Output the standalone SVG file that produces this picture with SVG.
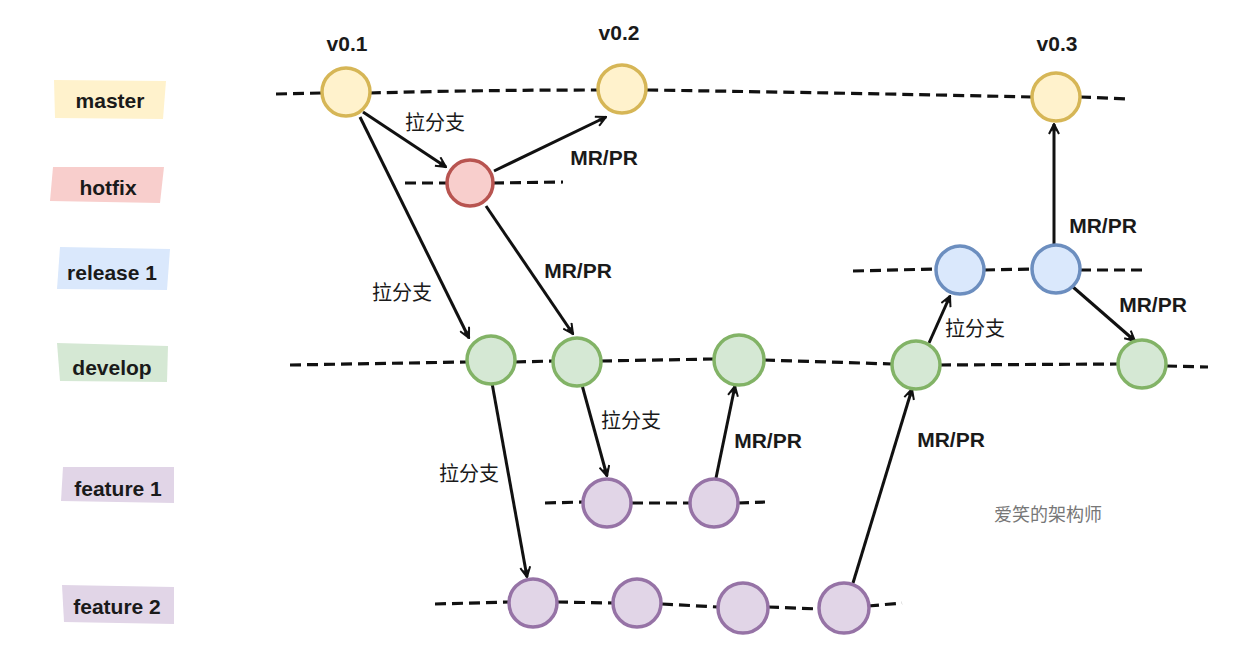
<svg xmlns="http://www.w3.org/2000/svg" width="1252" height="671" viewBox="0 0 1252 671">
<style>
.bg{fill:#ffffff}
.lbl{font-family:"Liberation Sans",Arial,sans-serif;font-weight:bold;font-size:21px;fill:#1a1a1a;text-anchor:middle}
.cjk{font-family:"Liberation Sans","Noto Sans CJK SC",sans-serif;font-weight:normal;font-size:20px;fill:#1a1a1a;text-anchor:middle}
.wm{font-family:"Liberation Sans","Noto Sans CJK SC",sans-serif;font-size:18px;fill:#777777;text-anchor:middle}
.dash{fill:none;stroke:#111;stroke-width:3.2;stroke-dasharray:11 6}
.arr{fill:none;stroke:#111;stroke-width:3;marker-end:url(#ah)}
.n{stroke-width:3.5}
.master{fill:#fff2cc;stroke:#d6b656}
.hotfix{fill:#f8cecc;stroke:#b85450}
.release{fill:#dae8fc;stroke:#6c8ebf}
.develop{fill:#d5e8d4;stroke:#82b366}
.feature{fill:#e1d5e7;stroke:#9673a6}
.tag-master{fill:#fff2cc}
.tag-hotfix{fill:#f8cecc}
.tag-release{fill:#dae8fc}
.tag-develop{fill:#d5e8d4}
.tag-feature{fill:#e1d5e7}
</style>
<defs>
<marker id="ah" viewBox="0 0 12 12" refX="11" refY="6" markerWidth="12" markerHeight="12" markerUnits="userSpaceOnUse" orient="auto">
<path d="M1,1 L11,6 L1,11 M4,3.5 L11,6 L4,8.5" fill="none" stroke="#111" stroke-width="2"/>
</marker>
</defs>
<rect class="bg" x="0" y="0" width="1252" height="671"/>

<g id="branch-labels">
<g id="label-master"><path class="tag-master" d="M54,80 L166,81 L163,119 L55,118 Z"/><text class="lbl" x="110" y="108">master</text></g>
<g id="label-hotfix"><path class="tag-hotfix" d="M53,167 L164,167 L160,203 L50,201 Z"/><text class="lbl" x="108" y="195">hotfix</text></g>
<g id="label-release"><path class="tag-release" d="M60,247 L170,249 L167,290 L57,289 Z"/><text class="lbl" x="112" y="280">release 1</text></g>
<g id="label-develop"><path class="tag-develop" d="M57,343 L168,346 L167,382 L60,381 Z"/><text class="lbl" x="112" y="375">develop</text></g>
<g id="label-feature1"><path class="tag-feature" d="M63,467 L174,467 L174,503 L61,501 Z"/><text class="lbl" x="118" y="496">feature 1</text></g>
<g id="label-feature2"><path class="tag-feature" d="M62,585 L174,587 L174,624 L64,622 Z"/><text class="lbl" x="117" y="614">feature 2</text></g>
</g>

<g id="versions">
<text class="lbl" x="347" y="51">v0.1</text>
<text class="lbl" x="619" y="40">v0.2</text>
<text class="lbl" x="1057" y="51">v0.3</text>
</g>

<g id="branch-lines">
<path class="dash" d="M276,94 L322,93 M370,93 Q480,90 597,90 M647,90 Q850,93 1032,97 M1080,97 L1127,99"/>
<path class="dash" d="M405,183 L447,183 M493,183 L563,182"/>
<path class="dash" d="M853,271 L935,269 M984,270 L1032,269 M1080,270 L1143,270"/>
<path class="dash" d="M290,365 L467,362 M515,362 L553,361 M601,361 L714,359 M764,360 L892,364 M940,365 L1118,364 M1166,366 L1208,367"/>
<path class="dash" d="M545,503 L583,502 M632,503 L690,503 M738,503 L765,502"/>
<path class="dash" d="M435,604 L509,602 M557,602 L613,603 M662,604 L718,607 M768,607 L820,609 M868,606 L902,603"/>
</g>

<g id="connectors">
<path class="arr" d="M363,112 L446,167"/>
<path class="arr" d="M494,171 L606,117"/>
<path class="arr" d="M360,117 L469,338"/>
<path class="arr" d="M486,206 L573,334"/>
<path class="arr" d="M492,383 L527,577"/>
<path class="arr" d="M582,385 L607,476"/>
<path class="arr" d="M716,478 L735,386"/>
<path class="arr" d="M853,583 L912,389"/>
<path class="arr" d="M929,343 L950,296"/>
<path class="arr" d="M1054,244 L1054,124"/>
<path class="arr" d="M1073,287 L1135,341"/>
<text class="cjk" x="435" y="130">拉分支</text>
<text class="lbl" x="604" y="165">MR/PR</text>
<text class="cjk" x="402" y="300">拉分支</text>
<text class="lbl" x="578" y="278">MR/PR</text>
<text class="cjk" x="469" y="481">拉分支</text>
<text class="cjk" x="631" y="428">拉分支</text>
<text class="lbl" x="768" y="448">MR/PR</text>
<text class="lbl" x="951" y="447">MR/PR</text>
<text class="cjk" x="975" y="336">拉分支</text>
<text class="lbl" x="1103" y="233">MR/PR</text>
<text class="lbl" x="1153" y="312">MR/PR</text>
</g>

<g id="nodes">
<g id="m1"><circle class="n master" cx="346" cy="92" r="24"/></g>
<g id="m2"><circle class="n master" cx="622" cy="89" r="24"/></g>
<g id="m3"><circle class="n master" cx="1056" cy="97" r="24"/></g>
<g id="h1"><circle class="n hotfix" cx="470" cy="183" r="23"/></g>
<g id="r1"><circle class="n release" cx="960" cy="270" r="24"/></g>
<g id="r2"><circle class="n release" cx="1056" cy="269" r="24"/></g>
<g id="d1"><circle class="n develop" cx="491" cy="360" r="24"/></g>
<g id="d2"><circle class="n develop" cx="577" cy="362" r="24"/></g>
<g id="d3"><circle class="n develop" cx="739" cy="360" r="25"/></g>
<g id="d4"><circle class="n develop" cx="916" cy="365" r="24"/></g>
<g id="d5"><circle class="n develop" cx="1142" cy="364" r="24"/></g>
<g id="f1a"><circle class="n feature" cx="607" cy="503" r="24"/></g>
<g id="f1b"><circle class="n feature" cx="714" cy="503" r="24"/></g>
<g id="f2a"><circle class="n feature" cx="533" cy="603" r="24"/></g>
<g id="f2b"><circle class="n feature" cx="637" cy="603" r="24"/></g>
<g id="f2c"><circle class="n feature" cx="743" cy="608" r="25"/></g>
<g id="f2d"><circle class="n feature" cx="844" cy="608" r="25"/></g>
</g>

<text class="wm" x="1048" y="521">爱笑的架构师</text>
</svg>
